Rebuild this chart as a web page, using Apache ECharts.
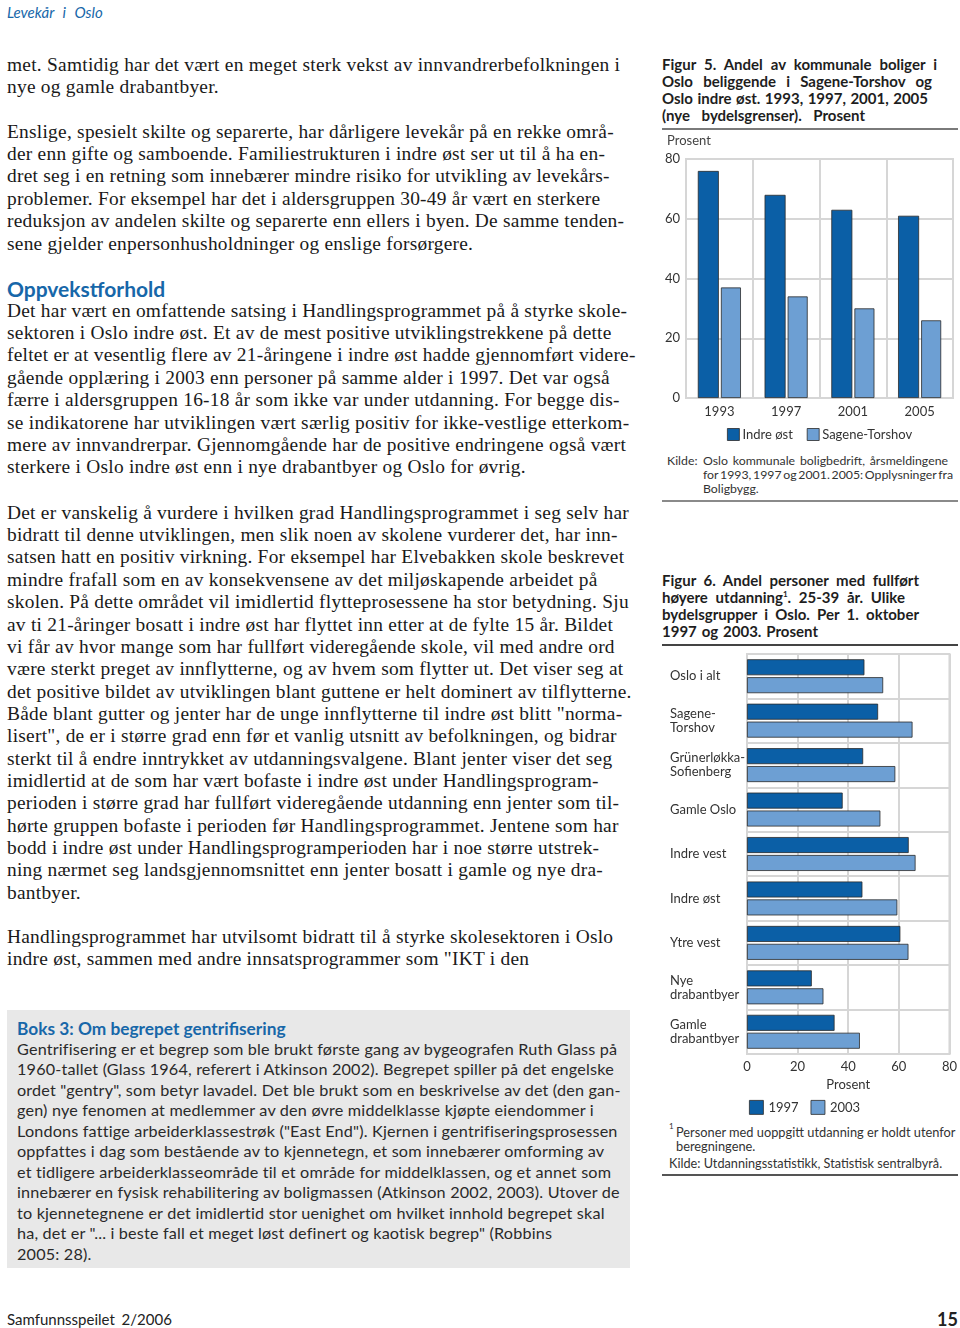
<!DOCTYPE html>
<html><head><meta charset="utf-8">
<script src="https://cdn.jsdelivr.net/npm/echarts@6/dist/echarts.min.js"></script>
<style>
html,body{margin:0;padding:0;background:#fff;}
body{width:960px;height:1328px;position:relative;overflow:hidden;font-family:Lato,"Open Sans",sans-serif;color:#222;}
.abs{position:absolute;}
.serif{font-family:"Liberation Serif","DejaVu Serif",serif;font-size:19.4px;letter-spacing:0.25px;line-height:22.35px;color:#1a1a1a;left:7px;white-space:nowrap;}
.serif div{white-space:nowrap;}
.blue{color:#1767a9;}
.ftitle{left:662px;font-weight:bold;font-size:15px;line-height:17px;color:#1e1e1e;white-space:nowrap;}
.ftitle div, .small div{white-space:nowrap;display:block;}
span.ln{display:inline-block;white-space:nowrap;}
.small{font-size:12.3px;line-height:14px;color:#333;white-space:nowrap;}
.rule{position:absolute;left:662px;width:296px;}
</style></head>
<body>
<div class="abs blue" style="left:7px;top:2px;font-style:italic;font-size:15px;line-height:20px;word-spacing:5px;">Levekår i Oslo</div>

<div id="b1" class="abs serif" style="top:53.8px"></div>
<div id="b2" class="abs serif" style="top:120.8px"></div>
<div class="abs blue" style="left:7px;top:276px;font-weight:bold;font-size:21px;line-height:26px;">Oppvekstforhold</div>
<div id="b3" class="abs serif" style="top:299.8px"></div>
<div id="b4" class="abs serif" style="top:501.8px"></div>
<div id="b5" class="abs serif" style="top:925.8px"></div>

<div class="abs" style="left:7px;top:1010px;width:623px;height:258px;background:#e8e8e8;"></div>
<div class="abs blue" style="left:17px;top:1017px;font-weight:bold;font-size:17.3px;line-height:24px;">Boks 3: Om begrepet gentrifisering</div>
<div id="box" class="abs" style="left:17px;top:1038.75px;font-size:16.2px;letter-spacing:0.18px;line-height:20.5px;color:#2a2a2a;white-space:nowrap;"></div>

<div class="abs" style="left:7px;top:1309px;font-size:15px;line-height:20px;word-spacing:3px;">Samfunnsspeilet 2/2006</div>
<div class="abs" style="right:2px;top:1307px;font-size:18px;font-weight:bold;line-height:24px;">15</div>

<div id="t5" class="abs ftitle" style="top:55.5px"></div>
<div class="rule" style="top:128px;height:2px;background:#7a7a7a;"></div>
<div id="c5" class="abs" style="left:660px;top:130px;width:300px;height:320px;"></div>
<div class="abs small" style="left:667px;top:454px;">Kilde:</div>
<div id="src5" class="abs small" style="left:703px;top:454px;"></div>
<div class="rule" style="top:500px;height:1.5px;background:#8a8a8a;"></div>

<div id="t6" class="abs ftitle" style="top:571.5px"></div>
<div class="rule" style="top:644px;height:1.5px;background:#444;"></div>
<div id="c6" class="abs" style="left:660px;top:648px;width:300px;height:470px;"></div>
<div class="abs small" style="left:669px;top:1121px;font-size:8px;line-height:10px;">1</div>
<div class="abs small" style="left:676px;top:1125px;font-size:12.8px;">Personer med uoppgitt utdanning er holdt utenfor<br>beregningene.</div>
<div class="abs small" style="left:669px;top:1156px;font-size:12.7px;">Kilde: Utdanningsstatistikk, Statistisk sentralbyrå.</div>
<div class="rule" style="top:1174px;height:1.5px;background:#555;"></div>

<script>
// ---- Figure 5 data ----
const years5 = ['1993', '1997', '2001', '2005'];
const indreOst5 = [76, 68, 63, 61];
const sagene5 = [37, 34, 30, 26];
const series5Names = ['Indre øst', 'Sagene-Torshov'];

// ---- Figure 6 data ----
const districts6 = ['Oslo i alt', 'Sagene-\nTorshov', 'Grünerløkka-\nSofienberg', 'Gamle Oslo', 'Indre vest', 'Indre øst', 'Ytre vest', 'Nye\ndrabantbyer', 'Gamle\ndrabantbyer'];
const v1997 = [46.4, 51.8, 45.9, 37.8, 63.9, 45.6, 60.6, 25.6, 34.6];
const v2003 = [53.8, 65.4, 58.6, 52.7, 66.6, 59.4, 63.8, 30.2, 44.6];
const series6Names = ['1997', '2003'];

// ---- Titles and sources (line text) ----
const title5 = ['Figur 5. Andel av kommunale boliger i', 'Oslo beliggende i Sagene-Torshov og', 'Oslo indre øst. 1993, 1997, 2001, 2005', '(nye bydelsgrenser). Prosent'];
const title6 = ['Figur 6. Andel personer med fullført', 'høyere utdanning<sup>1</sup>. 25-39 år. Ulike', 'bydelsgrupper i Oslo. Per 1. oktober', '1997 og 2003. Prosent'];
const source5 = ['Oslo kommunale boligbedrift, årsmeldingene', 'for 1993, 1997 og 2001. 2005: Opplysninger fra', 'Boligbygg.'];

// ---- Text ----
const para1 = ['met. Samtidig har det vært en meget sterk vekst av innvandrerbefolkningen i', 'nye og gamle drabantbyer.'];
const para2 = ['Enslige, spesielt skilte og separerte, har dårligere levekår på en rekke områ-', 'der enn gifte og samboende. Familiestrukturen i indre øst ser ut til å ha en-', 'dret seg i en retning som innebærer mindre risiko for utvikling av levekårs-', 'problemer. For eksempel har det i aldersgruppen 30-49 år vært en sterkere', 'reduksjon av andelen skilte og separerte enn ellers i byen. De samme tenden-', 'sene gjelder enpersonhusholdninger og enslige forsørgere.'];
const para3 = ['Det har vært en omfattende satsing i Handlingsprogrammet på å styrke skole-', 'sektoren i Oslo indre øst. Et av de mest positive utviklingstrekkene på dette', 'feltet er at vesentlig flere av 21-åringene i indre øst hadde gjennomført videre-', 'gående opplæring i 2003 enn personer på samme alder i 1997. Det var også', 'færre i aldersgruppen 16-18 år som ikke var under utdanning. For begge dis-', 'se indikatorene har utviklingen vært særlig positiv for ikke-vestlige etterkom-', 'mere av innvandrerpar. Gjennomgående har de positive endringene også vært', 'sterkere i Oslo indre øst enn i nye drabantbyer og Oslo for øvrig.'];
const para4 = ['Det er vanskelig å vurdere i hvilken grad Handlingsprogrammet i seg selv har', 'bidratt til denne utviklingen, men slik noen av skolene vurderer det, har inn-', 'satsen hatt en positiv virkning. For eksempel har Elvebakken skole beskrevet', 'mindre frafall som en av konsekvensene av det miljøskapende arbeidet på', 'skolen. På dette området vil imidlertid flytteprosessene ha stor betydning. Sju', 'av ti 21-åringer bosatt i indre øst har flyttet inn etter at de fylte 15 år. Bildet', 'vi får av hvor mange som har fullført videregående skole, vil med andre ord', 'være sterkt preget av innflytterne, og av hvem som flytter ut. Det viser seg at', 'det positive bildet av utviklingen blant guttene er helt dominert av tilflytterne.', 'Både blant gutter og jenter har de unge innflytterne til indre øst blitt "norma-', 'lisert", de er i større grad enn før et vanlig utsnitt av befolkningen, og bidrar', 'sterkt til å endre inntrykket av utdanningsvalgene. Blant jenter viser det seg', 'imidlertid at de som har vært bofaste i indre øst under Handlingsprogram-', 'perioden i større grad har fullført videregående utdanning enn jenter som til-', 'hørte gruppen bofaste i perioden før Handlingsprogrammet. Jentene som har', 'bodd i indre øst under Handlingsprogramperioden har i noe større utstrek-', 'ning nærmet seg landsgjennomsnittet enn jenter bosatt i gamle og nye dra-', 'bantbyer.'];
const para5 = ['Handlingsprogrammet har utvilsomt bidratt til å styrke skolesektoren i Oslo', 'indre øst, sammen med andre innsatsprogrammer som "IKT i den'];
const boxLines = ['Gentrifisering er et begrep som ble brukt første gang av bygeografen Ruth Glass på', '1960-tallet (Glass 1964, referert i Atkinson 2002). Begrepet spiller på det engelske', 'ordet "gentry", som betyr lavadel. Det ble brukt som en beskrivelse av det (den gan-', 'gen) nye fenomen at medlemmer av den øvre middelklasse kjøpte eiendommer i', 'Londons fattige arbeiderklassestrøk ("East End"). Kjernen i gentrifiseringsprosessen', 'oppfattes i dag som bestående av to kjennetegn, et som innebærer omforming av', 'et tidligere arbeiderklasseområde til et område for middelklassen, og et annet som', 'innebærer en fysisk rehabilitering av boligmassen (Atkinson 2002, 2003). Utover de', 'to kjennetegnene er det imidlertid stor uenighet om hvilket innhold begrepet skal', 'ha, det er "... i beste fall et meget løst definert og kaotisk begrep" (Robbins', '2005: 28).'];

function fill(id, lines){
  const el = document.getElementById(id);
  lines.forEach(t => { const d = document.createElement('div'); d.textContent = t; el.appendChild(d); });
}
fill('b1', para1); fill('b2', para2); fill('b3', para3); fill('b4', para4); fill('b5', para5); fill('box', boxLines);

// lines fitted (by word spacing) to the measured line lengths of the printed text
function fillFit(id, lines, widths){
  const el = document.getElementById(id);
  lines.forEach((t, i) => {
    const d = document.createElement('div');
    const s = document.createElement('span'); s.className = 'ln'; s.innerHTML = t.replace('<sup>', '<sup style="font-size:8px;line-height:0;">');
    d.appendChild(s); el.appendChild(d);
    if (!widths[i]) return;
    const w = s.getBoundingClientRect().width;
    const spaces = (t.replace(/<[^>]+>/g, '').match(/ /g) || []).length;
    let ws = (widths[i] - w) / Math.max(spaces, 1);
    if (ws < -1.5) { ws = -1.5; }
    s.style.wordSpacing = ws + 'px';
    const w2 = s.getBoundingClientRect().width;
    if (w2 > widths[i] + 1) { s.style.transformOrigin = 'left center'; s.style.transform = 'scaleX(' + (widths[i] / w2) + ')'; }
  });
}

const FONT = 'Lato';
const DARK = '#0b5fa6', LIGHT = '#6d9fd3', EDGE = '#2b2b2b', GRIDC = '#d6d6d6';

function draw(){
  fillFit('t5', title5, [275, 270, 266, 203]);
  fillFit('t6', title6, [257, 243, 257, 156]);
  fillFit('src5', source5, [245, 250, 0]);

  // ---- Chart 5 ----
  const c5 = echarts.init(document.getElementById('c5'), null, {renderer: 'canvas'});
  c5.setOption({
    animation: false,
    textStyle: {fontFamily: FONT},
    grid: {left: 26, right: 7, top: 29, bottom: 52, show: true, borderColor: GRIDC, borderWidth: 2},
    graphic: [{type: 'text', left: 7, top: 4, style: {text: 'Prosent', fontFamily: FONT, fontSize: 13, fill: '#444'}}],
    legend: {top: 298, left: 67, padding: 0, itemWidth: 12, itemHeight: 12, itemGap: 14, icon: 'rect',
      textStyle: {fontFamily: FONT, fontSize: 13, color: '#333', padding: [0, 0, 0, -2]},
      itemStyle: {borderColor: EDGE, borderWidth: 0.8},
      data: series5Names},
    xAxis: {type: 'category', data: years5,
      axisLine: {show: true, lineStyle: {color: GRIDC, width: 2}}, axisTick: {show: false},
      splitLine: {show: true, lineStyle: {color: GRIDC, width: 2}},
      axisLabel: {fontFamily: FONT, fontSize: 13, color: '#333', margin: 7}},
    yAxis: {type: 'value', min: 0, max: 80, interval: 20,
      axisLine: {show: false}, axisTick: {show: false},
      splitLine: {lineStyle: {color: GRIDC, width: 2}},
      axisLabel: {fontFamily: FONT, fontSize: 13, color: '#333', margin: 6}},
    series: [
      {name: series5Names[0], type: 'bar', data: indreOst5, barWidth: 21, barGap: '10%',
        itemStyle: {color: DARK, borderColor: EDGE, borderWidth: 0.8}},
      {name: series5Names[1], type: 'bar', data: sagene5, barWidth: 20,
        itemStyle: {color: LIGHT, borderColor: EDGE, borderWidth: 0.8}}
    ]
  });

  // ---- Chart 6 ----
  const c6 = echarts.init(document.getElementById('c6'), null, {renderer: 'canvas'});
  c6.setOption({
    animation: false,
    textStyle: {fontFamily: FONT},
    grid: {left: 87, right: 10, top: 6, bottom: 64, show: true, borderColor: GRIDC, borderWidth: 2},
    legend: {top: 452, left: 89, padding: 0, itemWidth: 14, itemHeight: 14, itemGap: 12, icon: 'rect',
      textStyle: {fontFamily: FONT, fontSize: 13, color: '#333'},
      itemStyle: {borderColor: EDGE, borderWidth: 0.8},
      data: series6Names},
    xAxis: {type: 'value', min: 0, max: 80, interval: 20,
      name: 'Prosent', nameLocation: 'middle', nameGap: 17,
      nameTextStyle: {fontFamily: FONT, fontSize: 13, color: '#333'},
      axisLine: {show: true, lineStyle: {color: GRIDC, width: 2}}, axisTick: {show: false},
      splitLine: {lineStyle: {color: GRIDC, width: 2}},
      axisLabel: {fontFamily: FONT, fontSize: 13, color: '#333', margin: 6}},
    yAxis: {type: 'category', data: districts6, inverse: true,
      axisLine: {show: true, lineStyle: {color: GRIDC, width: 2}}, axisTick: {show: false},
      splitLine: {show: true, lineStyle: {color: GRIDC, width: 2}},
      axisLabel: {fontFamily: FONT, fontSize: 13, color: '#333', align: 'left', margin: 77, lineHeight: 14}},
    series: [
      {name: series6Names[0], type: 'bar', data: v1997, barWidth: 16, barGap: '12%',
        itemStyle: {color: DARK, borderColor: EDGE, borderWidth: 0.8}},
      {name: series6Names[1], type: 'bar', data: v2003, barWidth: 16,
        itemStyle: {color: LIGHT, borderColor: EDGE, borderWidth: 0.8}}
    ]
  });
}
if (document.fonts && document.fonts.ready) { document.fonts.ready.then(draw); } else { draw(); }
</script>
</body></html>
